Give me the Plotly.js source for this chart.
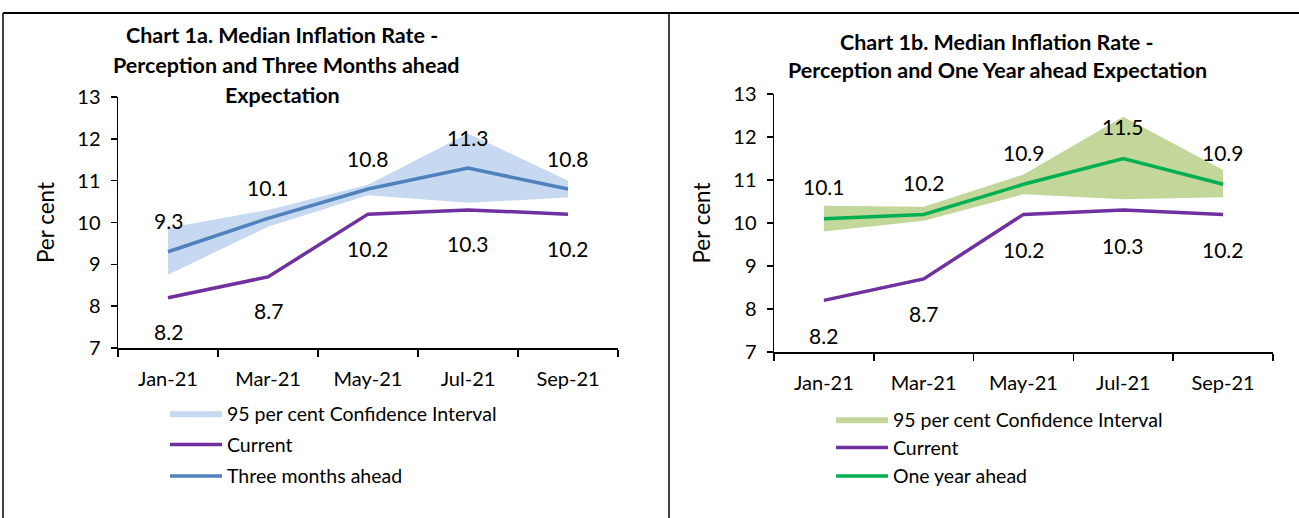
<!DOCTYPE html>
<html><head><meta charset="utf-8">
<script src="https://cdn.plot.ly/plotly-3.0.1.min.js"></script>
<style>html,body{margin:0;padding:0;background:#fff}#chart{width:1299px;height:518px}</style>
</head><body><div id="chart"></div>
<script>
const months = ["Jan-21","Mar-21","May-21","Jul-21","Sep-21"];
const current = [8.2, 8.7, 10.2, 10.3, 10.2];
const threeMonths = [9.3, 10.1, 10.8, 11.3, 10.8];
const ci3Lower = [8.75, 9.9, 10.65, 10.47, 10.6];
const ci3Upper = [9.87, 10.3, 10.9, 12.13, 11.0];
const oneYear = [10.1, 10.2, 10.9, 11.5, 10.9];
const ci1Lower = [9.8, 10.05, 10.67, 10.55, 10.6];
const ci1Upper = [10.4, 10.38, 11.13, 12.47, 11.23];
const yTicks = [7, 8, 9, 10, 11, 12, 13];

const FONT = "Lato, 'Liberation Sans', sans-serif";
const purple = "#7030a0", blue = "#4f81bd", green = "#00b050";
const blueFill = "#c6d9f1", greenFill = "#c4d79b";

function ciTraces(lower, upper, fill, xa, ya, lg, grp, name){
  return [
    {x: months, y: lower, xaxis: xa, yaxis: ya, mode: "lines", line: {width: 0, color: fill},
     showlegend: false, hoverinfo: "skip", legend: lg},
    {x: months, y: upper, xaxis: xa, yaxis: ya, mode: "lines", line: {width: 0, color: fill},
     fill: "tonexty", fillcolor: fill, name: name, legend: lg, legendgroup: grp}
  ];
}

const data = [
  ...ciTraces(ci3Lower, ci3Upper, blueFill, "x", "y", "legend", "la", "95 per cent Confidence Interval"),
  {x: months, y: current, xaxis: "x", yaxis: "y", mode: "lines", line: {color: purple, width: 3.5},
   name: "Current", legend: "legend", legendgroup: "lb"},
  {x: months, y: threeMonths, xaxis: "x", yaxis: "y", mode: "lines", line: {color: blue, width: 3.5},
   name: "Three months ahead", legend: "legend", legendgroup: "lc"},
  ...ciTraces(ci1Lower, ci1Upper, greenFill, "x2", "y2", "legend2", "m", "95 per cent Confidence Interval"),
  {x: months, y: current, xaxis: "x2", yaxis: "y2", mode: "lines", line: {color: purple, width: 3.5},
   name: "Current", legend: "legend2", legendgroup: "m"},
  {x: months, y: oneYear, xaxis: "x2", yaxis: "y2", mode: "lines", line: {color: green, width: 3.5},
   name: "One year ahead", legend: "legend2", legendgroup: "m"}
];

function labels(vals, xa, ya, shift){
  return vals.map((v, i) => ({x: months[i], y: v, xref: xa, yref: ya, text: v.toFixed(1),
    showarrow: false, yshift: shift, font: {family: FONT, size: 21, color: "#000"}}));
}
function titleLine(text, x, y){
  return {text: text, x: x, y: y, xref: "paper", yref: "paper", showarrow: false,
    xanchor: "center", yanchor: "middle", font: {family: FONT, size: 21.5, color: "#000", weight: "bold"}};
}
const H = 518, W = 1299;
const annotations = [
  ...labels(threeMonths, "x", "y", 31),
  ...labels(current, "x", "y", -34),
  ...labels(oneYear, "x2", "y2", 32),
  ...labels(current, "x2", "y2", -35),
  titleLine("Chart 1a. Median Inflation Rate -", 282/W, 1 - 35/H),
  titleLine("Perception and Three Months ahead", 286/W, 1 - 65/H),
  titleLine("Expectation", 282/W, 1 - 95/H),
  titleLine("Chart 1b. Median Inflation Rate -", 997/W, 1 - 42/H),
  titleLine("Perception and One Year ahead Expectation", 997/W, 1 - 70/H)
];

function xAxis(dom, anchor){
  return {domain: dom, anchor: anchor, type: "category", range: [-0.5, 4.5], tickson: "boundaries",
    showline: true, linecolor: "#000", linewidth: 1.5, ticks: "outside", ticklen: 7, tickcolor: "#000",
    tickwidth: 1.5, showgrid: false, zeroline: false, ticklabelstandoff: 12,
    tickfont: {family: FONT, size: 20, color: "#000"}, fixedrange: true};
}
function yAxis(dom, anchor){
  return {domain: dom, anchor: anchor, range: [7, 13], tickvals: yTicks, ticktext: yTicks.map(String),
    showline: true, linecolor: "#000", linewidth: 1.5, ticks: "outside", ticklen: 6, tickcolor: "#000",
    tickwidth: 1.5, showgrid: false, zeroline: false, ticklabelstandoff: 6,
    tickfont: {family: FONT, size: 20, color: "#000"},
    title: {text: "Per cent", font: {family: FONT, size: 22.5, color: "#000"}, standoff: 16}, fixedrange: true};
}

const layout = {
  width: W, height: H, margin: {l: 0, r: 0, t: 0, b: 0},
  paper_bgcolor: "#fff", plot_bgcolor: "rgba(0,0,0,0)",
  font: {family: FONT, color: "#000"},
  xaxis: xAxis([118/W, 618/W], "y"),
  yaxis: yAxis([170/H, 421/H], "x"),
  xaxis2: xAxis([774/W, 1273/W], "y2"),
  yaxis2: yAxis([166/H, 424/H], "x2"),
  legend: {x: 165/W, y: 1 - 394/H, xanchor: "left", yanchor: "top", bgcolor: "rgba(0,0,0,0)",
    font: {family: FONT, size: 19.5, color: "#000"}, itemwidth: 52, tracegroupgap: 3, traceorder: "grouped"},
  legend2: {x: 831/W, y: 1 - 400/H, xanchor: "left", yanchor: "top", bgcolor: "rgba(0,0,0,0)",
    font: {family: FONT, size: 19.5, color: "#000"}, itemwidth: 52, tracegroupgap: 0, traceorder: "grouped"},
  annotations: annotations,
  shapes: [
    {type: "line", xref: "paper", yref: "paper", x0: 3/W, x1: 1, y0: 1 - 13/H, y1: 1 - 13/H, line: {color: "#000", width: 2}},
    {type: "line", xref: "paper", yref: "paper", x0: 3/W, x1: 3/W, y0: 0, y1: 1 - 13/H, line: {color: "#000", width: 1.5}},
    {type: "line", xref: "paper", yref: "paper", x0: 669/W, x1: 669/W, y0: 0, y1: 1 - 13/H, line: {color: "#000", width: 1.5}}
  ]
};
Plotly.newPlot("chart", data, layout, {displayModeBar: false, staticPlot: true});
</script></body></html>
